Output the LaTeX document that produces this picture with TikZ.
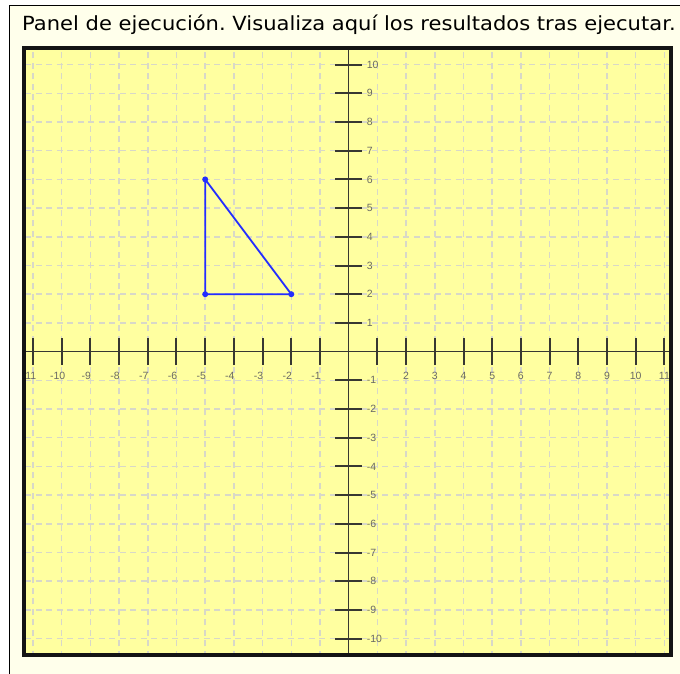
\documentclass[tikz,border=0pt]{standalone}
\usepackage{fontspec}
\setmainfont{DejaVu Sans}
\newfontfamily\ticklabelfont{Liberation Sans}
\usepackage{xcolor}
\usepackage{tikz}
\usetikzlibrary{positioning}
\definecolor{panelbg}{RGB}{255,255,235}
\definecolor{plotbg}{RGB}{255,255,160}
\definecolor{gridgray}{RGB}{216,216,200}
\definecolor{axisgray}{RGB}{55,55,50}
\definecolor{labelgray}{RGB}{105,105,100}
\definecolor{shapeblue}{RGB}{35,45,255}
\def\plotunit{28.7pt}
\def\ticklen{13.5pt}
\frenchspacing

\begin{document}
\begin{tikzpicture}[x=1pt, y=1pt,
		gridline/.style={draw=gridgray, line width=1.5pt, dash pattern=on 6pt off 4.5pt},
		axisline/.style={draw=axisgray, line width=1.6pt},
		tickline/.style={draw=axisgray, line width=2pt},
		ticklabel/.style={font=\ticklabelfont\fontsize{10.5}{12}\selectfont, text=labelgray, inner sep=0pt},
		shapeline/.style={draw=shapeblue, line width=1.8pt, line join=round},
		vertexdot/.style={circle, fill=shapeblue, inner sep=0pt, minimum size=6pt}]
		\useasboundingbox[fill=white] (-348.7,-321.4) rectangle (331.3,351.6);
		\fill[panelbg] (-339.2,-330) rectangle (340,346.3);
		\draw[black, line width=1.5pt] (-339.2,-330) -- (-339.2,346.3) -- (340,346.3);
		\node[anchor=base west, font=\fontsize{19.5}{23}\selectfont, inner sep=0pt, xscale=1.08, transform shape] (title) at (-326.7,320.8) {Panel de ejecución. Visualiza aquí los resultados tras ejecutar.};
		\coordinate (fsw) at (-324.7,-302.9);
		\coordinate (fne) at (321.8,303.6);
		\fill[plotbg] (fsw) rectangle (fne);
		\begin{scope}
			\clip (fsw) rectangle (fne);
			\begin{scope}[x=\plotunit, y=\plotunit]
				\foreach \k in {-11,...,11} {
					\draw[gridline] (\k,-11) -- (\k,11);
				}
				\foreach \k in {-10,...,10} {
					\draw[gridline] (-12,\k) -- (12,\k);
				}
				\draw[axisline] (-12,0) -- (12,0);
				\draw[axisline] (0,-11) -- (0,11);
				\foreach \k in {-11,...,-1,1,2,...,11} {
					\draw[tickline] (\k,0) ++(0,-\ticklen) -- ++(0,2*\ticklen);
				}
				\foreach \k in {-10,...,-1,1,2,...,10} {
					\draw[tickline] (0,\k) ++(-\ticklen,0) -- ++(2*\ticklen,0);
				}
				\foreach \k in {-11,...,-1} {
					\node[ticklabel] (xlabel\k) at ([xshift=-4pt, yshift=-24.4pt]\k,0) {\k};
				}
				\foreach \k in {2,...,11} {
					\node[ticklabel] (xlabel\k) at ([yshift=-24.4pt]\k,0) {\k};
				}
				\foreach \k in {-10,...,-1,1,2,...,10} {
					\node[ticklabel, anchor=west] (ylabel\k) at ([xshift=18pt]0,\k) {\k};
				}
				\coordinate (ptA) at (-5,6);
				\coordinate (ptB) at (-5,2);
				\coordinate (ptC) at (-2,2);
				\draw[shapeline] (ptA) -- (ptB) -- (ptC) -- cycle;
				\foreach \p in {A,B,C} {
					\node[vertexdot] (dot\p) at (pt\p) {};
				}
			\end{scope}
		\end{scope}
		\draw[black!92, line width=4pt] (fsw) rectangle (fne);
	\end{tikzpicture}
\end{document}
